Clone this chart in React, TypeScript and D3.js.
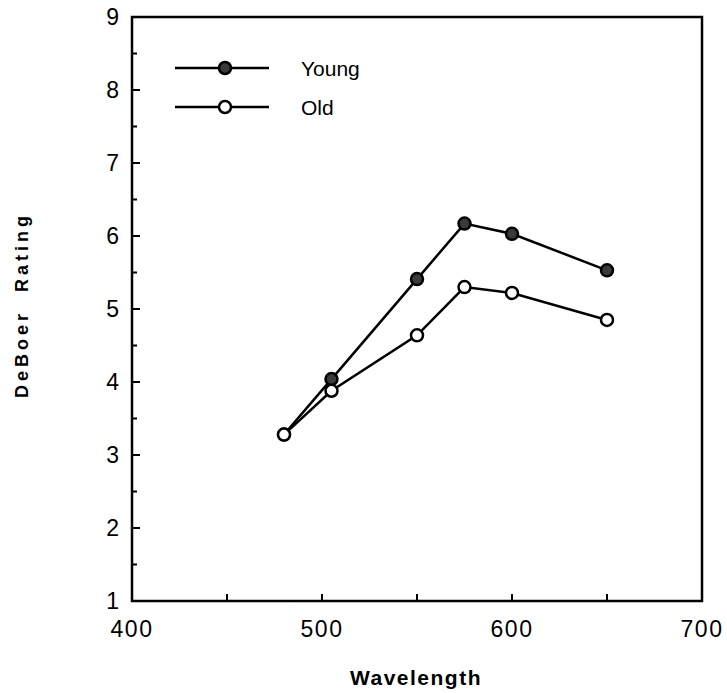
import React, { useEffect, useRef } from "react";
import * as d3 from "d3";

const wavelengths = [480, 505, 550, 575, 600, 650];
const youngValues = [3.28, 4.04, 5.41, 6.17, 6.03, 5.53];
const oldValues = [3.28, 3.88, 4.64, 5.3, 5.22, 4.85];
const xTicks = [400, 500, 600, 700];
const xMinorTicks = [450, 500, 550, 600, 650];
const yTicks = [1, 2, 3, 4, 5, 6, 7, 8, 9];
const seriesNames = ["Young", "Old"];

const App = () => {
  const ref = useRef<SVGSVGElement | null>(null);

  useEffect(() => {
    const svg = d3.select(ref.current);
    svg.selectAll("*").remove();

    const margin = { top: 17, right: 25, bottom: 92, left: 132 };
    const width = 702 - margin.left;
    const height = 601 - margin.top;

    const g = svg
      .append("g")
      .attr("transform", `translate(${margin.left},${margin.top})`);

    const x = d3.scaleLinear().domain([400, 700]).range([0, width]);
    const y = d3.scaleLinear().domain([1, 9]).range([height, 0]);

    const font = "'Liberation Sans', Arial, sans-serif";

    // frame
    g.append("rect")
      .attr("width", width)
      .attr("height", height)
      .attr("fill", "none")
      .attr("stroke", "#000")
      .attr("stroke-width", 2.5);

    // left ticks (inward), major + half steps
    yTicks.forEach((t) => {
      g.append("line")
        .attr("x1", 0)
        .attr("x2", 8)
        .attr("y1", y(t))
        .attr("y2", y(t))
        .attr("stroke", "#000")
        .attr("stroke-width", 2);
      if (t < 9) {
        g.append("line")
          .attr("x1", 0)
          .attr("x2", 5)
          .attr("y1", y(t + 0.5))
          .attr("y2", y(t + 0.5))
          .attr("stroke", "#000")
          .attr("stroke-width", 2);
      }
      g.append("text")
        .attr("x", -13)
        .attr("y", y(t) + 8)
        .attr("text-anchor", "end")
        .style("font-family", font)
        .style("font-size", "23px")
        .text(t);
    });

    // bottom ticks (inward)
    xMinorTicks.forEach((t) => {
      g.append("line")
        .attr("x1", x(t))
        .attr("x2", x(t))
        .attr("y1", height)
        .attr("y2", height - 7)
        .attr("stroke", "#000")
        .attr("stroke-width", 2);
    });

    xTicks.forEach((t) => {
      g.append("text")
        .attr("x", x(t))
        .attr("y", height + 36)
        .attr("text-anchor", "middle")
        .style("font-family", font)
        .style("font-size", "23px")
        .style("letter-spacing", "1.5px")
        .text(t);
    });

    // axis titles
    g.append("text")
      .attr("x", 416 - margin.left)
      .attr("y", height + 84)
      .attr("text-anchor", "middle")
      .style("font-family", font)
      .style("font-size", "21px")
      .style("font-weight", "bold")
      .style("letter-spacing", "1.5px")
      .text("Wavelength");

    g.append("text")
      .attr("transform", "rotate(-90)")
      .attr("x", -(305 - margin.top))
      .attr("y", 28 - margin.left)
      .attr("text-anchor", "middle")
      .style("font-family", font)
      .style("font-size", "18px")
      .style("font-weight", "bold")
      .style("letter-spacing", "4px")
      .style("white-space", "pre")
      .text("DeBoer  Rating");

    const line = d3
      .line<number>()
      .x((_, i) => x(wavelengths[i]))
      .y((d) => y(d));

    const series = [
      { name: seriesNames[0], values: youngValues, fill: "#3a3a3a" },
      { name: seriesNames[1], values: oldValues, fill: "#fff" },
    ];

    series.forEach((s) => {
      g.append("path")
        .datum(s.values)
        .attr("d", line)
        .attr("fill", "none")
        .attr("stroke", "#000")
        .attr("stroke-width", 2.5);
    });

    series.forEach((s) => {
      g.append("g")
        .selectAll("circle")
        .data(s.values)
        .join("circle")
        .attr("cx", (_, i) => x(wavelengths[i]))
        .attr("cy", (d) => y(d))
        .attr("r", 6)
        .attr("fill", s.fill)
        .attr("stroke", "#000")
        .attr("stroke-width", 2.5);
    });

    // legend
    const legend = svg.append("g");
    series.forEach((s, i) => {
      const ly = 68 + i * 39;
      legend
        .append("line")
        .attr("x1", 175)
        .attr("x2", 269)
        .attr("y1", ly)
        .attr("y2", ly)
        .attr("stroke", "#000")
        .attr("stroke-width", 2.5);
      legend
        .append("circle")
        .attr("cx", 225)
        .attr("cy", ly)
        .attr("r", 6)
        .attr("fill", s.fill)
        .attr("stroke", "#000")
        .attr("stroke-width", 2.5);
      legend
        .append("text")
        .attr("x", 301)
        .attr("y", ly + 8)
        .style("font-family", font)
        .style("font-size", "21px")
        .text(s.name);
    });
  }, []);

  return (
    <svg
      ref={ref}
      width={727}
      height={693}
      style={{ position: "absolute", left: 0, top: 0, background: "#fff" }}
    />
  );
};

export default App;
